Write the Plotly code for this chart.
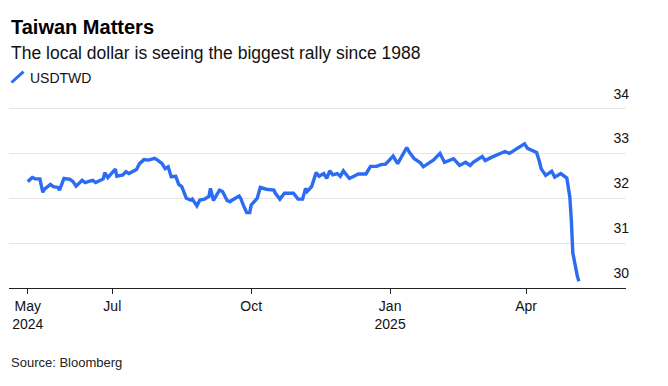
import plotly.graph_objects as go

# ---- data ----
dates = [
    "2024-05-06", "2024-05-09", "2024-05-11", "2024-05-14", "2024-05-16", "2024-05-17",
    "2024-05-21", "2024-05-23", "2024-05-26", "2024-05-27", "2024-05-30", "2024-06-03",
    "2024-06-05", "2024-06-07", "2024-06-11", "2024-06-13", "2024-06-16", "2024-06-18",
    "2024-06-20", "2024-06-23", "2024-06-25", "2024-06-26", "2024-06-28", "2024-07-03",
    "2024-07-04", "2024-07-08", "2024-07-10", "2024-07-12", "2024-07-15", "2024-07-17",
    "2024-07-19", "2024-07-22", "2024-07-25", "2024-07-29", "2024-07-31", "2024-08-03",
    "2024-08-05", "2024-08-07", "2024-08-09", "2024-08-12", "2024-08-14", "2024-08-16",
    "2024-08-19", "2024-08-22", "2024-08-23", "2024-08-26", "2024-08-28", "2024-08-31",
    "2024-09-03", "2024-09-04", "2024-09-06", "2024-09-10", "2024-09-12", "2024-09-15",
    "2024-09-17", "2024-09-18", "2024-09-23", "2024-09-24", "2024-09-26", "2024-09-28",
    "2024-09-30", "2024-10-01", "2024-10-05", "2024-10-07", "2024-10-11", "2024-10-16",
    "2024-10-17", "2024-10-20", "2024-10-23", "2024-10-27", "2024-10-29", "2024-11-01",
    "2024-11-04", "2024-11-06", "2024-11-07", "2024-11-10", "2024-11-13", "2024-11-15",
    "2024-11-18", "2024-11-20", "2024-11-22", "2024-11-24", "2024-11-27", "2024-11-29",
    "2024-12-01", "2024-12-05", "2024-12-08", "2024-12-11", "2024-12-16", "2024-12-19",
    "2024-12-23", "2024-12-26", "2024-12-29", "2025-01-03", "2025-01-06", "2025-01-09",
    "2025-01-12", "2025-01-14", "2025-01-17", "2025-01-21", "2025-01-23", "2025-01-30",
    "2025-02-03", "2025-02-06", "2025-02-10", "2025-02-12", "2025-02-16", "2025-02-20",
    "2025-02-23", "2025-02-25", "2025-03-03", "2025-03-05", "2025-03-09", "2025-03-12",
    "2025-03-18", "2025-03-21", "2025-03-26", "2025-03-31", "2025-04-02", "2025-04-08",
    "2025-04-10", "2025-04-11", "2025-04-14", "2025-04-18", "2025-04-20", "2025-04-24",
    "2025-04-28", "2025-04-30", "2025-05-01", "2025-05-02", "2025-05-05", "2025-05-06",
]
usdtwd = [
    32.37, 32.46, 32.43, 32.43, 32.13, 32.20,
    32.31, 32.26, 32.24, 32.18, 32.44, 32.42,
    32.37, 32.27, 32.40, 32.35, 32.38, 32.40,
    32.35, 32.40, 32.43, 32.57, 32.46, 32.65,
    32.49, 32.52, 32.59, 32.55, 32.61, 32.64,
    32.77, 32.86, 32.85, 32.89, 32.85, 32.77,
    32.66, 32.70, 32.48, 32.49, 32.31, 32.26,
    32.00, 31.96, 31.98, 31.83, 31.96, 31.98,
    32.04, 32.22, 31.95, 32.18, 32.15, 31.95,
    31.92, 31.95, 32.05, 32.00, 31.83, 31.68,
    31.68, 31.85, 32.00, 32.24, 32.20, 32.18,
    32.11, 31.98, 32.11, 32.11, 32.11, 31.98,
    31.98, 32.22, 32.15, 32.26, 32.57, 32.49,
    32.55, 32.44, 32.61, 32.52, 32.55, 32.49,
    32.61, 32.44, 32.48, 32.54, 32.54, 32.71,
    32.71, 32.75, 32.76, 32.94, 32.77, 32.96,
    33.13, 33.01, 32.88, 32.79, 32.70, 32.86,
    33.00, 32.80, 32.86, 32.88, 32.73, 32.80,
    32.73, 32.80, 32.93, 32.84, 32.91, 32.96,
    33.04, 33.00, 33.11, 33.21, 33.11, 33.02,
    32.80, 32.66, 32.51, 32.60, 32.47, 32.55,
    32.45, 32.03, 31.51, 30.78, 30.26, 30.15,
]
x_tick_vals = ["2024-05-06", "2024-07-01", "2024-10-01", "2025-01-01", "2025-04-01"]
x_tick_text = ["May<br>2024", "Jul", "Oct", "Jan<br>2025", "Apr"]
y_tick_vals = [30, 31, 32, 33, 34]

title_text = "Taiwan Matters"
subtitle_text = "The local dollar is seeing the biggest rally since 1988"
series_name = "USDTWD"
source_text = "Source: Bloomberg"

LINE_COLOR = "#2b6cf3"
FONT = "Liberation Sans, Arial, sans-serif"

fig = go.Figure()
fig.add_trace(go.Scatter(
    x=dates, y=usdtwd, mode="lines", name=series_name,
    line=dict(color=LINE_COLOR, width=3.4), hoverinfo="skip",
))

# plot area in pixels: left 9, right 626, bottom 288; 45 px per unit
Y_MIN, Y_MAX = 30, 34.5
L, R, B = 9, 626, 288
T = B - (Y_MAX - Y_MIN) * 45
W, H = 668, 386


def px_x(p):
    return (p - L) / (R - L)


def px_y(p):
    return (B - p) / (B - T)


fig.update_layout(
    width=W, height=H,
    margin=dict(l=L, r=W - R, t=T, b=H - B, pad=0),
    paper_bgcolor="white", plot_bgcolor="white",
    showlegend=False,
    font=dict(family=FONT, color="#111111", size=14),
    xaxis=dict(
        type="date",
        range=["2024-04-23 14:00", "2025-06-06 05:00"],
        tickvals=x_tick_vals, ticktext=x_tick_text,
        showgrid=False, zeroline=False,
        showline=True, linecolor="#222222", linewidth=1,
        ticks="outside", ticklen=5, tickcolor="#222222", tickwidth=1,
        tickfont=dict(size=14, color="#111111"),
        fixedrange=True,
    ),
    yaxis=dict(
        range=[Y_MIN, Y_MAX], side="right",
        tickvals=y_tick_vals,
        ticklabelposition="inside top",
        ticklabeloverflow="allow",
        ticklabelshift=-5,
        ticklabelstandoff=-6,
        showgrid=True, gridcolor="#e6e6e6", gridwidth=1,
        zeroline=False, showline=False, ticks="",
        tickfont=dict(size=14, color="#111111"),
        fixedrange=True,
    ),
)

annotations = [
    dict(text="<b>" + title_text + "</b>", x=px_x(9), y=px_y(26), xanchor="left", yanchor="middle",
         font=dict(size=20, color="#000000")),
    dict(text=subtitle_text, x=px_x(9), y=px_y(52), xanchor="left", yanchor="middle",
         font=dict(size=17.5, color="#111111")),
    dict(text=series_name, x=px_x(28), y=px_y(77), xanchor="left", yanchor="middle",
         font=dict(size=14, color="#111111")),
    dict(text=source_text, x=px_x(9), y=px_y(363), xanchor="left", yanchor="middle",
         font=dict(size=13, color="#222222")),
]
for a in annotations:
    a.update(xref="paper", yref="paper", showarrow=False)
fig.update_layout(annotations=annotations)

# legend key (diagonal stroke)
fig.add_shape(type="line", xref="paper", yref="paper",
              x0=px_x(11.5), y0=px_y(82), x1=px_x(23.5), y1=px_y(71),
              line=dict(color=LINE_COLOR, width=3))

# remove the browser's default 8px page margin so the figure sits at (0, 0)
fig.write_html("out.html", config={"displayModeBar": False},
               post_script="document.body.style.margin='0';")
